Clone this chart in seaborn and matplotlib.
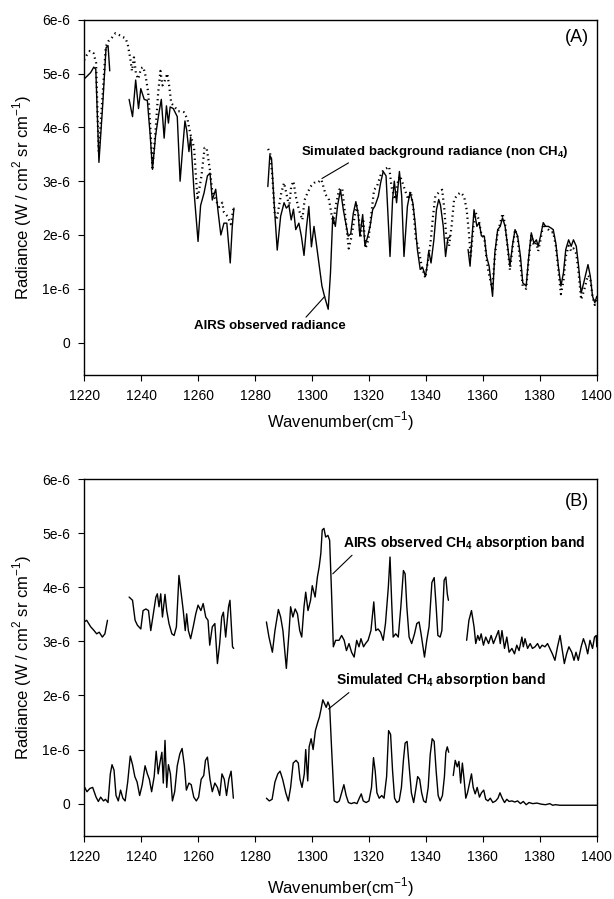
import numpy as np
import pandas as pd
import matplotlib
matplotlib.use("Agg")
import matplotlib.pyplot as plt
import seaborn as sns

sns.set_theme(style="ticks")
plt.rcParams['font.family'] = ['Liberation Sans', 'DejaVu Sans']
plt.rcParams['mathtext.fontset'] = 'custom'
plt.rcParams['mathtext.rm'] = 'Liberation Sans'
plt.rcParams['mathtext.bf'] = 'Liberation Sans:bold'
plt.rcParams['text.color'] = 'black'
plt.rcParams['axes.labelcolor'] = 'black'
plt.rcParams['xtick.color'] = 'black'
plt.rcParams['ytick.color'] = 'black'

# ---------------- Data (radiance in units of 1e-6 W / cm2 sr cm-1) ----------------
# Panel A: AIRS observed radiance (solid), 4 segments
a_obs1_x = [1220, 1221, 1222.3, 1223.4, 1224.1, 1225.2, 1226.5, 1227.7, 1228.4, 1229]
a_obs1_y = [4.9, 4.95, 5.02, 5.12, 5.08, 3.35, 4.4, 5.48, 5.52, 5.05]

a_obs2_x = [1235.8, 1237.0, 1238.1, 1239.1, 1239.9, 1241.1, 1242.2, 1243.2, 1244.0, 1245.1,
            1246.3, 1247.1, 1248.1, 1248.9, 1249.6, 1250.2, 1251.3, 1252.7, 1253.7, 1254.5,
            1255.4, 1256.0, 1256.8, 1257.4, 1258.6, 1260.0, 1260.9, 1262.1, 1263.3, 1264.2,
            1265.0, 1266.2, 1267.0, 1268.0, 1269.1, 1270.1, 1271.3, 1272.0, 1272.6]
a_obs2_y = [4.52, 4.2, 4.88, 4.35, 4.72, 4.52, 4.5, 3.85, 3.22, 3.85,
            4.28, 4.52, 3.8, 4.4, 4.08, 4.38, 4.35, 4.2, 3.0, 3.55,
            4.12, 3.95, 3.55, 3.82, 2.8, 1.88, 2.55, 2.78, 3.1, 3.15,
            2.65, 2.85, 2.45, 2.0, 2.22, 2.22, 1.48, 2.15, 2.5]

a_obs3_x = [1284.5, 1285.2, 1285.8, 1286.7, 1287.8, 1289.0, 1290.2, 1291.0, 1291.9, 1292.7,
            1293.5, 1294.3, 1295.4, 1296.3, 1297.2, 1298.1, 1298.9, 1299.8, 1300.7, 1301.5,
            1302.5, 1303.5, 1304.4, 1305.7, 1306.5, 1307.3, 1308.2, 1309.0, 1310.0, 1311.0,
            1312.7, 1313.6, 1314.5, 1315.4, 1316.2, 1316.8, 1317.8, 1318.6, 1319.4, 1320.4,
            1321.3, 1322.1, 1323.3, 1324.1, 1325.0, 1326.0, 1327.4, 1328.3, 1328.9, 1329.7,
            1330.7, 1331.5, 1332.3, 1333.5, 1334.4, 1335.4, 1336.2, 1337.0, 1338.0, 1338.9,
            1339.8, 1340.4, 1341.0, 1341.8, 1342.8, 1343.7, 1344.5, 1345.1, 1346.1, 1346.9,
            1347.7, 1348.5]
a_obs3_y = [2.9, 3.48, 3.42, 2.6, 1.72, 2.35, 2.6, 2.5, 2.55, 2.28,
            2.48, 2.1, 2.22, 1.97, 1.62, 2.16, 2.53, 1.78, 2.16, 1.85,
            1.45, 1.05, 0.86, 0.62, 1.3, 2.35, 2.16, 2.55, 2.84, 2.47,
            1.98, 2.02, 2.4, 2.62, 2.4, 1.98, 2.38, 1.8, 1.94, 2.16,
            2.47, 2.54, 2.72, 2.97, 3.18, 3.1, 1.6, 2.66, 3.0, 2.6,
            3.18, 2.72, 1.6, 2.53, 2.79, 2.6, 2.23, 1.73, 1.36, 1.39,
            1.23, 1.42, 1.7, 1.48, 1.91, 2.47, 2.66, 2.56, 2.16, 1.6,
            1.94, 1.97]

a_obs4_x = [1354.8, 1355.5, 1356.3, 1356.9, 1357.9, 1358.7, 1359.5, 1360.5, 1361.3, 1362.2,
            1363.4, 1364.2, 1365.2, 1366.1, 1366.9, 1367.8, 1368.7, 1369.5, 1370.5, 1371.3,
            1372.2, 1373.2, 1374.0, 1375.2, 1376.0, 1377.0, 1377.9, 1378.8, 1379.4, 1380.2,
            1381.2, 1382.0, 1383.0, 1383.9, 1384.7, 1385.6, 1386.5, 1387.4, 1388.3, 1389.1,
            1390.1, 1391.0, 1391.8, 1392.8, 1393.6, 1394.5, 1395.4, 1396.9, 1397.7, 1398.5,
            1399.3, 1400.0]
a_obs4_y = [1.73, 1.42, 2.04, 2.47, 2.16, 2.23, 1.98, 1.98, 1.6, 1.42,
            0.86, 1.67, 2.1, 2.16, 2.32, 2.16, 1.79, 1.42, 1.85, 2.1,
            1.98, 1.6, 1.11, 1.05, 1.54, 2.04, 1.85, 1.91, 1.79, 1.97,
            2.23, 2.16, 2.16, 2.13, 2.1, 1.85, 1.42, 1.05, 1.3, 1.73,
            1.91, 1.79, 1.91, 1.79, 1.42, 0.92, 1.11, 1.45, 1.24, 0.86,
            0.74, 0.86]

# Panel A: simulated background radiance (non CH4) (dotted), 2 segments
a_sim1_x = [1220, 1221, 1222, 1223.3, 1224.2, 1225.1, 1226.5, 1227.6, 1228.5, 1229.5,
            1231.0, 1232.2, 1233.5, 1234.5, 1235.3, 1236.2, 1236.8, 1237.5, 1238.2, 1239.0,
            1240.0, 1240.8, 1241.6, 1242.5, 1243.4, 1244.0, 1245.1, 1246.0, 1246.8, 1247.5,
            1248.2, 1249.2, 1249.8, 1250.6, 1251.8, 1253.0, 1254.0, 1255.1, 1256.3, 1257.2,
            1258.6, 1259.8, 1261.2, 1262.3, 1263.0, 1264.2, 1265.0, 1266.2, 1267.4, 1268.5,
            1269.1, 1270.3, 1271.5, 1272.5]
a_sim1_y = [5.25, 5.35, 5.42, 5.38, 5.2, 3.55, 4.6, 5.5, 5.6, 5.65,
            5.75, 5.72, 5.68, 5.66, 5.55, 5.28, 5.05, 5.3, 5.0, 4.9,
            5.1, 5.12, 4.95, 4.65, 3.85, 3.25, 3.95, 4.65, 5.05, 4.78,
            4.85, 5.0, 4.8, 4.45, 4.38, 4.3, 4.3, 4.28, 4.15, 3.9,
            3.62, 2.65, 3.1, 3.62, 3.62, 3.2, 2.8, 2.65, 2.52, 2.6,
            2.42, 2.35, 2.2, 2.52]

a_sim2_x = [1284.6, 1285.3, 1286.1, 1286.9, 1287.6, 1288.4, 1289.2, 1290.2, 1291.1, 1292.0,
            1292.7, 1293.5, 1294.3, 1295.4, 1296.6, 1297.4, 1298.4, 1299.5, 1300.7, 1301.9,
            1303.3, 1304.0, 1304.8, 1306.0, 1306.8, 1307.5, 1308.3, 1309.5, 1310.6, 1311.6,
            1312.9, 1313.8, 1314.7, 1315.6, 1316.4, 1317.0, 1318.0, 1318.8, 1319.8, 1321.0,
            1321.8, 1322.8, 1324.0, 1325.0, 1326.2, 1327.1, 1327.9, 1329.1, 1329.9, 1330.9,
            1331.8, 1332.6, 1333.8, 1334.7, 1335.6, 1336.5, 1337.3, 1338.5, 1339.8, 1340.6,
            1341.6, 1342.5, 1343.3, 1344.5, 1345.7, 1346.5, 1347.2, 1348.1, 1349.0, 1349.9,
            1351.1, 1352.2, 1353.4, 1354.3, 1355.1, 1355.7, 1356.7, 1357.5, 1358.5, 1359.5,
            1360.5, 1361.3, 1362.0, 1363.3, 1364.2, 1365.2, 1366.0, 1366.9, 1367.8, 1368.7,
            1369.5, 1370.5, 1371.3, 1372.2, 1373.0, 1374.0, 1375.2, 1376.0, 1377.0, 1377.9,
            1378.8, 1379.4, 1380.2, 1381.2, 1382.0, 1383.0, 1383.9, 1384.7, 1385.6, 1386.5,
            1387.4, 1388.3, 1389.1, 1390.1, 1391.0, 1391.8, 1392.8, 1393.6, 1394.5, 1395.4,
            1396.9, 1397.7, 1398.5, 1399.3, 1400.0]
a_sim2_y = [3.6, 3.52, 3.09, 2.4, 2.28, 2.53, 2.78, 2.97, 2.75, 2.53,
            2.9, 3.0, 2.72, 2.47, 2.28, 2.65, 2.78, 2.9, 2.97, 2.97,
            3.03, 2.9, 2.75, 2.65, 2.4, 2.22, 2.53, 2.84, 2.87, 2.4,
            1.75, 1.95, 2.25, 2.55, 2.35, 1.95, 2.3, 1.75, 1.91, 2.47,
            2.84, 2.9, 3.1, 3.2, 3.24, 3.27, 2.9, 2.66, 2.94, 3.1,
            2.97, 2.84, 2.66, 2.81, 2.47, 1.91, 1.79, 1.42, 1.2, 1.48,
            1.85, 2.35, 2.72, 2.79, 2.84, 2.47, 1.91, 1.79, 2.16, 2.66,
            2.75, 2.79, 2.72, 2.47, 2.04, 1.6, 2.16, 2.41, 2.3, 2.0,
            1.95, 1.55, 1.3, 1.0, 1.6, 2.05, 2.2, 2.4, 2.2, 1.75,
            1.35, 1.8, 2.1, 1.95, 1.55, 1.05, 1.0, 1.5, 2.0, 1.8,
            1.85, 1.7, 1.9, 2.2, 2.15, 2.1, 2.05, 2.05, 1.8, 1.35,
            0.9, 1.15, 1.6, 1.8, 1.7, 1.75, 1.65, 1.3, 0.8, 0.95,
            1.25, 1.2, 0.85, 0.7, 0.8]

# Panel B: AIRS observed CH4 absorption band, 4 segments
b_obs1_x = [1220, 1220.9, 1222.3, 1223.5, 1224.4, 1225.3, 1226.4, 1227.3, 1228.2]
b_obs1_y = [3.36, 3.39, 3.27, 3.2, 3.14, 3.17, 3.08, 3.14, 3.39]

b_obs2_x = [1235.8, 1237.0, 1237.9, 1238.7, 1239.9, 1240.7, 1241.7, 1242.6, 1243.4, 1244.3,
            1245.2, 1245.7, 1246.3, 1246.9, 1247.5, 1248.4, 1249.0, 1249.8, 1250.8, 1251.6,
            1252.4, 1253.3, 1254.1, 1254.8, 1255.5, 1256.0, 1256.6, 1257.4, 1258.3, 1259.2,
            1260.0, 1261.0, 1261.8, 1262.7, 1263.5, 1264.1, 1265.0, 1265.9, 1266.8, 1267.6,
            1268.3, 1268.9, 1269.7, 1270.7, 1271.2, 1272.1, 1272.5]
b_obs2_y = [3.82, 3.76, 3.39, 3.3, 3.23, 3.57, 3.6, 3.57, 3.2, 3.51,
            3.82, 3.88, 3.64, 3.88, 3.45, 3.87, 3.57, 3.33, 3.14, 3.11,
            3.27, 4.22, 3.88, 3.57, 3.2, 3.51, 3.2, 3.05, 3.27, 3.51,
            3.67, 3.57, 3.7, 3.45, 3.39, 2.93, 3.27, 3.33, 2.59, 2.96,
            3.45, 3.54, 3.08, 3.64, 3.76, 2.9, 2.87]

b_obs3_x = [1284.0, 1284.9, 1286.1, 1287.0, 1288.2, 1289.0, 1289.8, 1291.0, 1291.9, 1292.5,
            1293.3, 1294.1, 1294.9, 1295.7, 1296.4, 1297.2, 1297.8, 1298.6, 1299.5, 1300.1,
            1301.1, 1301.9, 1302.5, 1303.1, 1303.6, 1304.2, 1304.8, 1305.6, 1306.2, 1306.8,
            1307.5, 1308.3, 1309.5, 1310.4, 1311.3, 1312.1, 1313.0, 1313.9, 1314.8, 1315.7,
            1316.5, 1317.2, 1318.1, 1318.8, 1319.7, 1320.7, 1321.7, 1322.4, 1323.2, 1324.1,
            1325.0, 1325.8, 1326.8, 1327.4, 1328.0, 1328.5, 1329.4, 1330.3, 1331.2, 1332.1,
            1332.7, 1333.3, 1334.1, 1335.0, 1336.0, 1336.8, 1337.6, 1338.3, 1339.5, 1340.3,
            1341.1, 1342.1, 1342.9, 1343.6, 1344.2, 1345.0, 1345.6, 1346.4, 1347.0, 1347.5,
            1347.9]
b_obs3_y = [3.36, 3.08, 2.8, 3.2, 3.59, 3.45, 3.2, 2.5, 3.14, 3.64,
            3.45, 3.6, 3.51, 3.2, 3.08, 3.64, 3.91, 3.57, 3.76, 4.03,
            3.82, 4.19, 4.37, 4.62, 5.06, 5.09, 4.93, 4.96, 4.87, 4.0,
            2.9, 3.02, 3.02, 3.11, 3.02, 2.83, 2.96, 2.8, 2.71, 3.02,
            2.9, 3.05, 2.9, 2.96, 3.02, 3.2, 3.73, 3.2, 3.23, 3.17,
            3.02, 3.33, 4.0, 4.56, 3.7, 3.08, 3.14, 3.08, 3.64, 4.31,
            4.25, 3.64, 3.08, 2.96, 3.14, 3.33, 3.36, 3.14, 2.71, 3.02,
            3.27, 4.09, 4.18, 3.64, 3.11, 3.08, 3.2, 4.13, 4.19, 3.88,
            3.76]

b_obs4_x = [1354.3, 1355.1, 1356.0, 1356.9, 1357.5, 1358.2, 1358.8, 1359.4, 1360.2, 1361.0,
            1362.0, 1362.9, 1363.7, 1364.6, 1365.5, 1366.1, 1366.7, 1367.6, 1368.4, 1369.2,
            1370.2, 1371.1, 1371.9, 1372.7, 1373.7, 1374.2, 1374.8, 1375.7, 1376.6, 1377.4,
            1378.3, 1379.2, 1380.0, 1380.8, 1381.8, 1382.7, 1383.5, 1384.4, 1385.3, 1386.2,
            1387.1, 1387.9, 1388.6, 1389.4, 1390.2, 1391.2, 1392.0, 1392.7, 1393.5, 1394.5,
            1395.3, 1396.1, 1396.8, 1397.6, 1398.5, 1399.2, 1399.8, 1400.0]
b_obs4_y = [3.02, 3.39, 3.57, 3.27, 2.96, 3.11, 3.02, 3.14, 2.93, 3.08,
            2.96, 3.11, 2.96, 3.08, 3.2, 2.96, 3.2, 2.87, 3.08, 2.8,
            2.87, 2.77, 2.93, 2.83, 3.08, 2.9, 3.05, 2.87, 2.96, 2.87,
            2.9, 2.96, 2.87, 2.93, 2.9, 2.96, 2.87, 2.77, 2.65, 2.9,
            3.11, 2.83, 2.59, 2.77, 2.9, 2.8, 2.65, 2.8, 2.65, 2.9,
            3.05, 2.93, 2.77, 3.02, 2.87, 3.08, 3.11, 2.9]

# Panel B: simulated CH4 absorption band, 3 segments
b_sim1_x = [1220, 1221.0, 1222.0, 1223.0, 1224.2, 1225.0, 1225.8, 1226.8, 1227.5, 1228.4,
            1229.2, 1229.8, 1230.5, 1231.2, 1232.0, 1232.8, 1233.6, 1234.4, 1235.3, 1236.2,
            1237.0, 1237.8, 1238.6, 1239.5, 1240.4, 1241.4, 1242.2, 1242.9, 1243.7, 1244.6,
            1245.3, 1246.0, 1246.6, 1247.3, 1247.8, 1248.4, 1249.0, 1249.6, 1250.3, 1251.0,
            1251.8, 1252.7, 1253.6, 1254.4, 1255.2, 1255.9, 1256.8, 1257.6, 1258.5, 1259.4,
            1260.2, 1261.1, 1262.0, 1262.6, 1263.3, 1264.2, 1265.0, 1265.9, 1266.8, 1267.6,
            1268.4, 1269.2, 1270.0, 1270.8, 1271.6, 1272.4]
b_sim1_y = [0.32, 0.22, 0.28, 0.3, 0.12, 0.04, 0.12, 0.05, 0.08, 0.02,
            0.55, 0.72, 0.62, 0.15, 0.05, 0.25, 0.1, 0.05, 0.4, 0.88,
            0.72, 0.5, 0.4, 0.15, 0.35, 0.7, 0.55, 0.45, 0.22, 0.5,
            0.97, 0.55, 0.75, 0.95, 0.38, 1.17, 0.3, 0.72, 0.55, 0.05,
            0.22, 0.7, 0.92, 1.02, 0.7, 0.25, 0.38, 0.35, 0.12, 0.05,
            0.12, 0.45, 0.52, 0.8, 0.86, 0.45, 0.22, 0.38, 0.3, 0.15,
            0.55, 0.45, 0.15, 0.45, 0.6, 0.1]

b_sim2_x = [1284.0, 1285.0, 1286.0, 1287.0, 1288.0, 1288.8, 1289.7, 1290.8, 1291.7, 1292.5,
            1293.4, 1294.4, 1295.2, 1295.8, 1296.5, 1297.3, 1297.8, 1298.5, 1299.0, 1299.7,
            1300.4, 1301.2, 1302.0, 1302.6, 1303.2, 1303.8, 1304.4, 1305.0, 1305.6, 1306.2,
            1306.9, 1307.8, 1308.8, 1309.6, 1310.4, 1311.2, 1312.0, 1312.8, 1313.8, 1314.8,
            1315.8, 1316.6, 1317.3, 1318.0, 1319.0, 1320.0, 1320.9, 1321.6, 1322.2, 1322.8,
            1323.6, 1324.5, 1325.3, 1326.2, 1326.9, 1327.6, 1328.3, 1329.0, 1329.8, 1330.6,
            1331.4, 1332.1, 1332.7, 1333.4, 1334.1, 1334.9, 1335.7, 1336.4, 1337.1, 1337.8,
            1338.5, 1339.2, 1340.0, 1340.8, 1341.5, 1342.2, 1342.9, 1343.6, 1344.3, 1345.0,
            1345.8, 1346.5, 1347.0, 1347.5, 1348.0]
b_sim2_y = [0.1, 0.05, 0.08, 0.4, 0.55, 0.6, 0.45, 0.2, 0.05, 0.3,
            0.75, 0.8, 0.75, 0.45, 0.3, 0.55, 1.0, 0.42, 1.05, 1.2,
            1.0, 1.35, 1.5, 1.6, 1.75, 1.92, 1.85, 1.78, 1.88, 1.8,
            1.0, 0.05, 0.02, 0.05, 0.2, 0.35, 0.15, 0.02, 0.0, 0.02,
            0.0, 0.1, 0.18, 0.05, 0.02, 0.05, 0.3, 0.85, 0.6, 0.2,
            0.1, 0.15, 0.1, 0.5, 1.35, 1.28, 0.6, 0.1, 0.02, 0.05,
            0.3, 0.8, 1.12, 1.15, 0.7, 0.2, 0.02, 0.25, 0.5, 0.45,
            0.2, 0.05, 0.02, 0.3, 0.9, 1.2, 1.15, 0.6, 0.15, 0.05,
            0.15, 0.5, 0.95, 1.05, 0.95]

b_sim3_x = [1349.6, 1350.3, 1351.0, 1351.6, 1352.2, 1352.8, 1353.4, 1354.0, 1354.6, 1355.2,
            1356.0, 1356.6, 1357.3, 1358.0, 1358.8, 1359.5, 1360.3, 1361.0, 1361.8, 1362.6,
            1363.5, 1364.5, 1365.3, 1366.0, 1366.8, 1367.6, 1368.4, 1369.2, 1370.2, 1371.2,
            1372.2, 1373.2, 1374.2, 1375.2, 1376.2, 1377.5, 1379.0, 1380.5, 1382.0, 1383.5,
            1384.5, 1385.5, 1387.0, 1390.0, 1395.0, 1400.0]
b_sim3_y = [0.52, 0.8, 0.68, 0.78, 0.38, 0.75, 0.45, 0.1, 0.2, 0.35,
            0.55, 0.3, 0.18, 0.3, 0.12, 0.2, 0.25, 0.08, 0.05, 0.1,
            0.02, 0.05, 0.1, 0.2, 0.1, 0.02, 0.08, 0.04, 0.05, 0.03,
            0.05, 0.0, 0.04, -0.02, 0.02, 0.0, 0.01, -0.01, -0.02, 0.0,
            -0.03, -0.02, -0.03, -0.03, -0.03, -0.03]

# Axis tick labels
x_ticks = [1220, 1240, 1260, 1280, 1300, 1320, 1340, 1360, 1380, 1400]
y_ticks = [0, 1, 2, 3, 4, 5, 6]
y_tick_labels = ["0", "1e-6", "2e-6", "3e-6", "4e-6", "5e-6", "6e-6"]

SCALE = 1e-6

# ---------------- Figure ----------------
fig = plt.figure(figsize=(6.14, 8.99), dpi=100)
axA = fig.add_axes([0.137, 0.583, 0.835, 0.395])
axB = fig.add_axes([0.137, 0.070, 0.835, 0.397])


def draw(ax, xs, ys, style):
    df = pd.DataFrame({"x": xs, "y": np.array(ys) * SCALE})
    if style == "solid":
        sns.lineplot(data=df, x="x", y="y", ax=ax, color="black", lw=1.0,
                     estimator=None, sort=False)
    else:
        sns.lineplot(data=df, x="x", y="y", ax=ax, color="black", lw=1.6,
                     linestyle=(0, (0.6, 1.6)), estimator=None, sort=False)


for xs, ys in [(a_sim1_x, a_sim1_y), (a_sim2_x, a_sim2_y)]:
    draw(axA, xs, ys, "dotted")
for xs, ys in [(a_obs1_x, a_obs1_y), (a_obs2_x, a_obs2_y), (a_obs3_x, a_obs3_y), (a_obs4_x, a_obs4_y)]:
    draw(axA, xs, ys, "solid")
for xs, ys in [(b_obs1_x, b_obs1_y), (b_obs2_x, b_obs2_y), (b_obs3_x, b_obs3_y), (b_obs4_x, b_obs4_y),
               (b_sim1_x, b_sim1_y), (b_sim2_x, b_sim2_y), (b_sim3_x, b_sim3_y)]:
    draw(axB, xs, ys, "solid")

ylabel = "Radiance (W / cm$^2$ sr cm$^{-1}$)"
xlabel = "Wavenumber(cm$^{-1}$)"
for ax in (axA, axB):
    ax.set_xlim(1220, 1400)
    ax.set_ylim(-0.6e-6, 6.0e-6)
    ax.set_xticks(x_ticks)
    ax.set_xticklabels([str(t) for t in x_ticks])
    ax.set_yticks([v * SCALE for v in y_ticks])
    ax.set_yticklabels(y_tick_labels)
    ax.tick_params(direction="out", length=4, width=0.8, labelsize=10, pad=6,
                   colors="black", labelcolor="black")
    ax.set_ylabel(ylabel, fontsize=12, labelpad=6, color="black")
    for s in ax.spines.values():
        s.set_linewidth(1.0)
        s.set_color("black")
    ax.set_facecolor("white")
axA.set_xlabel(xlabel, fontsize=12, labelpad=5, color="black")
axB.set_xlabel(xlabel, fontsize=12, labelpad=8, color="black")

# Panel labels
axA.text(0.985, 0.975, "(A)", transform=axA.transAxes, ha="right", va="top",
         fontsize=13, color="black")
axB.text(0.985, 0.96, "(B)", transform=axB.transAxes, ha="right", va="top",
         fontsize=13, color="black")

# Annotations
kwA = dict(fontsize=9.5, fontweight="bold", ha="left", va="center", color="black")
kwB = dict(fontsize=10, fontweight="bold", ha="left", va="center", color="black")
axA.annotate("Simulated background radiance (non CH$_\\mathbf{4}$)",
             xy=(1303.5, 3.05e-6), xytext=(1296.0, 3.55e-6),
             arrowprops=dict(arrowstyle="-", color="black", lw=0.8,
                             shrinkA=0, shrinkB=0, relpos=(0.2, 0.0)), **kwA)
axA.annotate("AIRS observed radiance",
             xy=(1304.5, 0.86e-6), xytext=(1258.5, 0.3e-6),
             arrowprops=dict(arrowstyle="-", color="black", lw=0.8,
                             shrinkA=0, shrinkB=0, relpos=(0.72, 1.0)), **kwA)
axB.annotate("AIRS observed CH$_\\mathbf{4}$ absorption band",
             xy=(1307.3, 4.25e-6), xytext=(1311.0, 4.82e-6),
             arrowprops=dict(arrowstyle="-", color="black", lw=0.8,
                             shrinkA=0, shrinkB=0, relpos=(0.05, 0.0)), **kwB)
axB.annotate("Simulated CH$_\\mathbf{4}$ absorption band",
             xy=(1305.8, 1.75e-6), xytext=(1308.5, 2.28e-6),
             arrowprops=dict(arrowstyle="-", color="black", lw=0.8,
                             shrinkA=0, shrinkB=0, relpos=(0.08, 0.0)), **kwB)

fig.savefig("out.png", dpi=100, facecolor="white")
